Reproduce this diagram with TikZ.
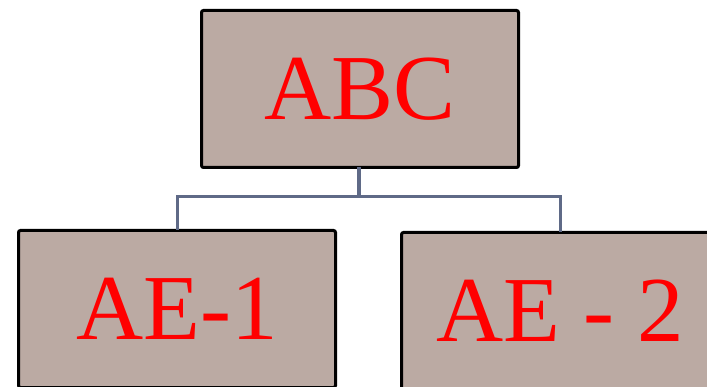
\documentclass[tikz,border=0pt]{standalone}
\usepackage{fontspec}
\setmainfont{Liberation Serif}
\definecolor{boxfill}{HTML}{BBAAA3}
\definecolor{linkcol}{HTML}{5F6A87}
\begin{document}
\begin{tikzpicture}[x=1pt,y=1pt,
  orgbox/.style={draw=black, line width=3pt, fill=boxfill, rounded corners=2pt,
    minimum width=317pt, minimum height=157pt, inner sep=0pt, outer sep=0pt,
    text=red, font=\fontsize{93}{93}\selectfont, text height=61pt, text depth=0pt},
  link/.style={draw=linkcol, line width=3pt}]
\useasboundingbox (0,0) rectangle (707,386);
\clip (0,0) rectangle (707,386);
\node[orgbox] (top) at (360,297) {ABC};
\node[orgbox] (left) at (177,77) {AE-1};
\node[orgbox] (right) at (560,75) {AE - 2};
\coordinate (hub) at (359,189);
\draw[link] (hub) -| (left.north);
\draw[link] (hub) -| (right.north);
\draw[link, line width=4pt] (top.south -| hub) -- ([yshift=-1.5pt]hub);
\end{tikzpicture}
\end{document}
